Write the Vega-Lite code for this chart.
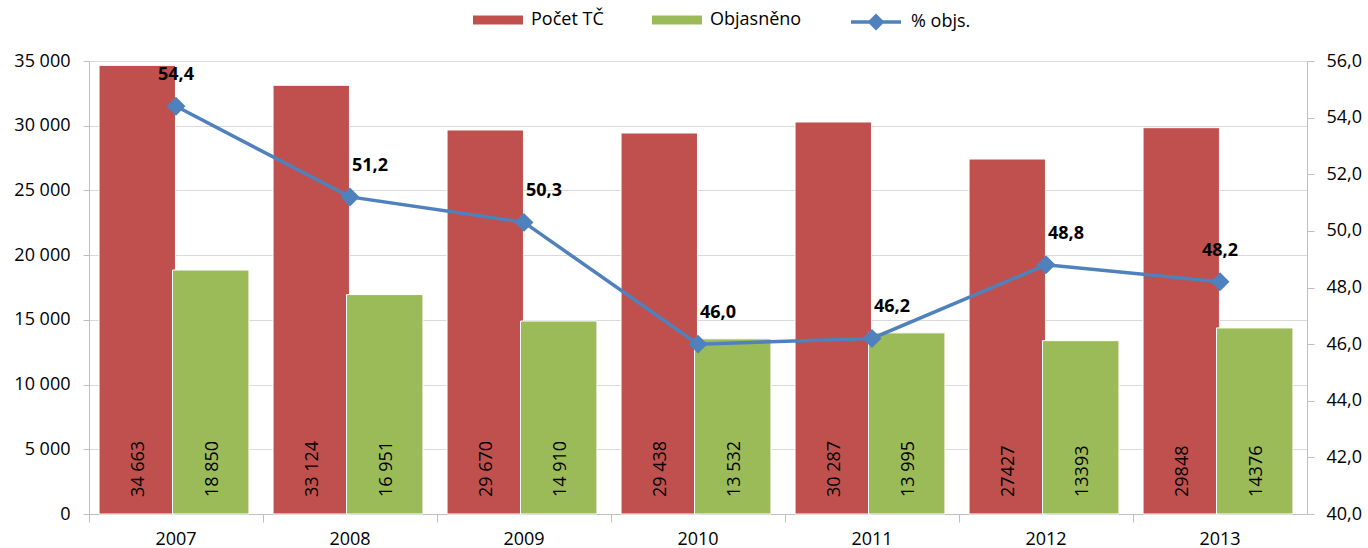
{
  "$schema": "https://vega.github.io/schema/vega-lite/v6.json",
  "width": 1218,
  "height": 453,
  "autosize": {"type": "none"},
  "padding": {"left": 89, "top": 61, "right": 61, "bottom": 34},
  "background": "white",
  "config": {
    "locale": {"number": {"decimal": ",", "thousands": " ", "grouping": [3], "currency": ["", " Kč"]}},
    "font": "Open Sans",
    "view": {"stroke": null},
    "axis": {"labelFont": "Open Sans", "labelFontSize": 18, "labelColor": "#000000", "domainColor": "#BFBFBF", "tickColor": "#BFBFBF", "gridColor": "#D9D9D9", "title": null},
    "legend": {"labelFontSize": 18, "labelFont": "Open Sans", "labelColor": "#000000", "title": null}
  },
  "datasets": {
    "bars": [
      {"year": "2007", "series": "Počet TČ", "value": 34663, "label": "34 663"},
      {"year": "2007", "series": "Objasněno", "value": 18850, "label": "18 850"},
      {"year": "2008", "series": "Počet TČ", "value": 33124, "label": "33 124"},
      {"year": "2008", "series": "Objasněno", "value": 16951, "label": "16 951"},
      {"year": "2009", "series": "Počet TČ", "value": 29670, "label": "29 670"},
      {"year": "2009", "series": "Objasněno", "value": 14910, "label": "14 910"},
      {"year": "2010", "series": "Počet TČ", "value": 29438, "label": "29 438"},
      {"year": "2010", "series": "Objasněno", "value": 13532, "label": "13 532"},
      {"year": "2011", "series": "Počet TČ", "value": 30287, "label": "30 287"},
      {"year": "2011", "series": "Objasněno", "value": 13995, "label": "13 995"},
      {"year": "2012", "series": "Počet TČ", "value": 27427, "label": "27427"},
      {"year": "2012", "series": "Objasněno", "value": 13393, "label": "13393"},
      {"year": "2013", "series": "Počet TČ", "value": 29848, "label": "29848"},
      {"year": "2013", "series": "Objasněno", "value": 14376, "label": "14376"}
    ],
    "pct": [
      {"year": "2007", "pct": 54.4},
      {"year": "2008", "pct": 51.2},
      {"year": "2009", "pct": 50.3},
      {"year": "2010", "pct": 46.0},
      {"year": "2011", "pct": 46.2},
      {"year": "2012", "pct": 48.8},
      {"year": "2013", "pct": 48.2}
    ]
  },
  "layer": [
    {
      "data": {"name": "bars"},
      "encoding": {
        "x": {"field": "year", "type": "nominal", "scale": {"paddingInner": 0, "paddingOuter": 0},
          "axis": {"bandPosition": 0, "labelAngle": 0, "labelPadding": 8, "tickSize": 8, "grid": false, "domainColor": "#BFBFBF"}},
        "xOffset": {"field": "series", "sort": ["Počet TČ", "Objasněno"], "scale": {"domain": ["Počet TČ", "Objasněno"], "paddingInner": 0, "paddingOuter": 0.184}}
      },
      "layer": [
        {
          "mark": {"type": "bar", "width": {"band": 1.04}, "stroke": "white", "strokeWidth": 1},
          "encoding": {
            "y": {"field": "value", "type": "quantitative", "scale": {"domain": [0, 35000], "nice": false},
              "axis": {"orient": "left", "tickCount": 7, "format": ",.0f", "grid": true, "tickSize": 6, "labelPadding": 13}},
            "color": {"field": "series", "type": "nominal",
              "scale": {"domain": ["Počet TČ", "Objasněno"], "range": ["#C0504D", "#9BBB59"]},
              "legend": {"orient": "none", "legendX": 384, "legendY": -66, "direction": "horizontal",
                "symbolType": "M-1,-0.18H1V0.18H-1Z", "symbolSize": 2500, "symbolStrokeWidth": 0,
                "columnPadding": 48, "labelOffset": 8}}
          }
        },
        {
          "mark": {"type": "text", "angle": 270, "align": "left", "baseline": "middle", "dx": 17, "fontSize": 18, "font": "Open Sans", "color": "#000000"},
          "encoding": {
            "y": {"datum": 0, "type": "quantitative"},
            "text": {"field": "label"}
          }
        }
      ]
    },
    {
      "data": {"name": "pct"},
      "layer": [
        {
          "mark": {"type": "line", "strokeWidth": 3.5,
            "point": {"shape": "diamond", "size": 260, "filled": true, "color": "#4F81BD"}},
          "encoding": {
            "x": {"field": "year", "type": "nominal"},
            "y": {"field": "pct", "type": "quantitative", "scale": {"domain": [40, 56], "nice": false},
              "axis": {"orient": "right", "tickCount": 8, "format": ".1f", "grid": false, "tickSize": 7, "labelPadding": 12}},
            "stroke": {"datum": "% objs.", "type": "nominal",
              "scale": {"domain": ["% objs."], "range": ["#4F81BD"]},
              "legend": {"orient": "none", "legendX": 760, "legendY": -66, "direction": "horizontal",
                "symbolType": "M-1,0H1M-0.24,0L0,-0.24L0.24,0L0,0.24Z M-0.12,0L0,-0.12L0.12,0L0,0.12Z", "symbolSize": 2500,
                "symbolStrokeWidth": 3.5, "labelOffset": 8}}
          }
        },
        {
          "transform": [{"filter": "datum.year == '2007' || datum.year == '2013'"}],
          "mark": {"type": "text", "dy": -31, "fontWeight": "bold", "fontSize": 18, "font": "Open Sans", "color": "#000000"},
          "encoding": {
            "x": {"field": "year", "type": "nominal"},
            "y": {"field": "pct", "type": "quantitative"},
            "text": {"field": "pct", "type": "quantitative", "format": ".1f"}
          }
        },
        {
          "transform": [{"filter": "datum.year != '2007' && datum.year != '2013'"}],
          "mark": {"type": "text", "dy": -31, "dx": 20, "fontWeight": "bold", "fontSize": 18, "font": "Open Sans", "color": "#000000"},
          "encoding": {
            "x": {"field": "year", "type": "nominal"},
            "y": {"field": "pct", "type": "quantitative"},
            "text": {"field": "pct", "type": "quantitative", "format": ".1f"}
          }
        }
      ]
    }
  ],
  "resolve": {"scale": {"y": "independent"}}
}
